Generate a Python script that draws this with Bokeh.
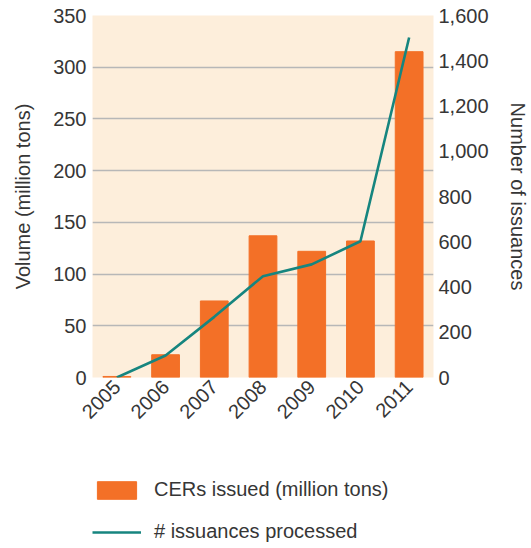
import math
from bokeh.plotting import figure
from bokeh.layouts import column
from bokeh.models import (Range1d, FactorRange, LinearAxis, FixedTicker, NumeralTickFormatter,
                          Legend, LegendItem, ColumnDataSource)
from bokeh.embed import file_html
from bokeh.resources import INLINE

years = ["2005", "2006", "2007", "2008", "2009", "2010", "2011"]
cers_issued = [1, 22, 74, 137, 122, 132, 315]
issuances = [0, 97, 268, 448, 500, 602, 1503]

left_ticks = [0, 50, 100, 150, 200, 250, 300, 350]
right_ticks = [0, 200, 400, 600, 800, 1000, 1200, 1400, 1600]

series_labels = ["CERs issued (million tons)", "# issuances processed"]

TEXT = "#363636"
FONT = "Liberation Sans"
BAR = "#f37027"
LINE = "#16857f"

src = ColumnDataSource(dict(x=years, v=cers_issued, n=issuances))

p = figure(x_range=FactorRange(*years, range_padding=0), y_range=Range1d(0, 350),
           width=531, height=458, output_backend="svg", toolbar_location=None,
           min_border_left=92, min_border_right=93, min_border_top=15, min_border_bottom=81)
p.extra_y_ranges = {"n": Range1d(0, 1600)}
p.outline_line_color = None
p.background_fill_color = "#fdeedb"
p.border_fill_color = "white"

bars = p.vbar(x="x", top="v", width=0.57, source=src, color=BAR)
line = p.line(x="x", y="n", source=src, y_range_name="n", line_color=LINE, line_width=2.6)

p.xgrid.visible = False
p.ygrid.ticker = FixedTicker(ticks=[50, 100, 150, 200, 250, 300])
p.ygrid.grid_line_color = "#b7b7b7"
p.ygrid.grid_line_width = 1.5

ax_l = p.yaxis[0]
ax_l.ticker = FixedTicker(ticks=left_ticks)
ax_l.axis_label = "Volume (million tons)"

ax_r = LinearAxis(y_range_name="n", ticker=FixedTicker(ticks=right_ticks),
                  formatter=NumeralTickFormatter(format="0,0"),
                  axis_label="Number of issuances")
p.add_layout(ax_r, "right")

for ax in [ax_l, ax_r, p.xaxis[0]]:
    ax.axis_line_color = None
    ax.major_tick_line_color = None
    ax.minor_tick_line_color = None
    ax.major_tick_out = 0
    ax.major_tick_in = 0
    ax.major_label_text_font = FONT
    ax.major_label_text_font_size = "20px"
    ax.major_label_text_color = TEXT
    ax.axis_label_text_font = FONT
    ax.axis_label_text_font_size = "20px"
    ax.axis_label_text_color = TEXT
    ax.axis_label_text_font_style = "normal"
    ax.major_label_standoff = 6

ax_r.major_label_standoff = 5
ax_l.axis_label_standoff = 16
ax_r.axis_label_standoff = 15
try:
    ax_r.axis_label_orientation = "vertical"
except Exception:
    pass
p.xaxis[0].major_label_orientation = math.pi / 4

# legend panel below the chart (its key renderers are hidden; only the legend shows)
lg = figure(x_range=FactorRange(*years), y_range=Range1d(0, 350),
            width=531, height=88, output_backend="svg", toolbar_location=None,
            x_axis_type=None, y_axis_type=None, min_border=0)
lg.outline_line_color = None
lg.xgrid.visible = False
lg.ygrid.visible = False
lb = lg.vbar(x="x", top="v", width=0.57, source=src, color=BAR, visible=False)
ll = lg.line(x="x", y="n", source=src, line_color=LINE, line_width=2.6, visible=False)
legend = Legend(items=[LegendItem(label=series_labels[0], renderers=[lb]),
                       LegendItem(label=series_labels[1], renderers=[ll])],
                orientation="vertical", location=(0, 3), click_policy="none",
                border_line_color=None, background_fill_alpha=0, inactive_fill_alpha=0,
                label_text_font=FONT, label_text_font_size="20px", label_text_color=TEXT,
                glyph_width=49, glyph_height=22, label_standoff=13, spacing=19,
                padding=0, margin=0)
lg.add_layout(legend, "center")

layout = column(p, lg, spacing=0)
open("out.html", "w").write(file_html(layout, INLINE))
